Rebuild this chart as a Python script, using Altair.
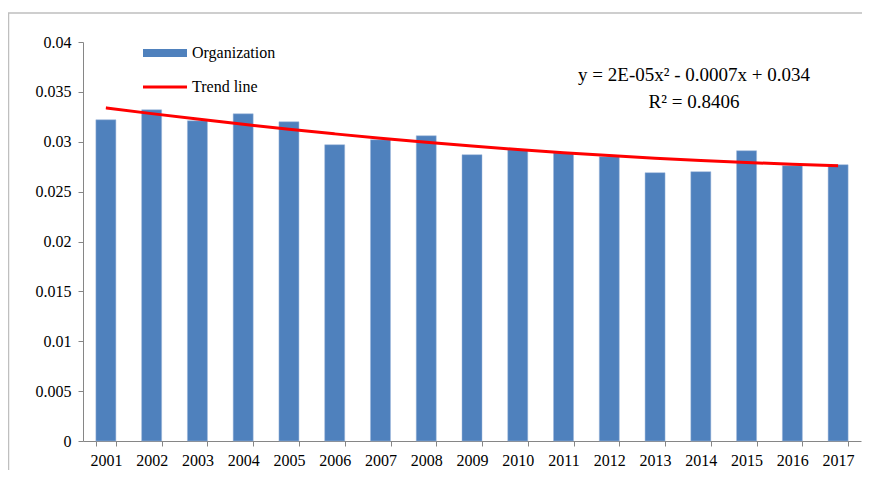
import altair as alt
import pandas as pd

years = [str(y) for y in range(2001, 2018)]
organization = [0.0322, 0.0332, 0.0321, 0.0328, 0.0320, 0.0297, 0.0302, 0.0306, 0.0287,
                0.0292, 0.0289, 0.0285, 0.0269, 0.0270, 0.0291, 0.0276, 0.0277]
trend = [0.03340, 0.03282, 0.03227, 0.03175, 0.03125, 0.03079, 0.03035, 0.02995, 0.02957,
         0.02922, 0.02890, 0.02861, 0.02835, 0.02812, 0.02792, 0.02775, 0.02760]
y_ticks = [0, 0.005, 0.01, 0.015, 0.02, 0.025, 0.03, 0.035, 0.04]
legend_labels = ["Organization", "Trend line"]
equation = "y = 2E-05x² - 0.0007x + 0.034"
r_squared = "R² = 0.8406"

df = pd.DataFrame({"year": years, "org": organization, "trend": trend})

FONT = "Liberation Serif"
AXIS_GRAY = "#868686"

y_scale = alt.Scale(domain=[0, 0.04], nice=False)
x_axis = alt.Axis(labelAngle=0, tickBand="extent", labelPadding=6, title=None)
y_axis = alt.Axis(values=y_ticks, grid=False, labelPadding=7, title=None,
                  labelExpr="datum.value == 0 ? '0' : format(datum.value, '~g')")

bars = alt.Chart(df).mark_bar(color="#4F81BD", size=20, stroke="#9DB7DA", strokeWidth=0.5).encode(
    x=alt.X("year:O", sort=years, title=None,
            scale=alt.Scale(paddingInner=0.56, paddingOuter=0.28), axis=x_axis),
    y=alt.Y("org:Q", scale=y_scale, title=None, axis=y_axis),
)

line = alt.Chart(df).mark_line(color="#FF0000", strokeWidth=3, interpolate="monotone").encode(
    x=alt.X("year:O", sort=years, title=None, axis=x_axis),
    y=alt.Y("trend:Q", scale=y_scale, title=None, axis=y_axis),
)

leg_df = pd.DataFrame({"label": legend_labels})

leg_rect = alt.Chart(leg_df).transform_filter(alt.datum.label == legend_labels[0]).mark_rect(
    color="#4F81BD").encode(
    x=alt.value(60), x2=alt.value(104), y=alt.value(7), y2=alt.value(15))
leg_line = alt.Chart(leg_df).transform_filter(alt.datum.label == legend_labels[1]).mark_rule(
    color="#FF0000", strokeWidth=3).encode(
    x=alt.value(60), x2=alt.value(104), y=alt.value(45))
leg_text1 = alt.Chart(leg_df).transform_filter(alt.datum.label == legend_labels[0]).mark_text(
    align="left", baseline="middle", font=FONT, fontSize=16, color="#000000").encode(
    x=alt.value(109), y=alt.value(11), text="label:N")
leg_text2 = alt.Chart(leg_df).transform_filter(alt.datum.label == legend_labels[1]).mark_text(
    align="left", baseline="middle", font=FONT, fontSize=16, color="#000000").encode(
    x=alt.value(109), y=alt.value(45), text="label:N")

eq_df = pd.DataFrame({"t": [equation, r_squared], "row": [0, 1]})
eq1 = alt.Chart(eq_df).transform_filter(alt.datum.row == 0).mark_text(
    align="center", baseline="middle", font=FONT, fontSize=19, color="#000000").encode(
    x=alt.value(611), y=alt.value(33), text="t:N")
eq2 = alt.Chart(eq_df).transform_filter(alt.datum.row == 1).mark_text(
    align="center", baseline="middle", font=FONT, fontSize=19, color="#000000").encode(
    x=alt.value(611), y=alt.value(60), text="t:N")

border = alt.Chart(leg_df).transform_filter(alt.datum.label == legend_labels[0]).mark_rect(
    fillOpacity=0, stroke="#BFBFBF", strokeWidth=1.5).encode(
    x=alt.value(-74.5), x2=alt.value(900), y=alt.value(-29), y2=alt.value(600))

chart = alt.layer(
    border, bars, line, leg_rect, leg_line, leg_text1, leg_text2, eq1, eq2
).properties(
    width=778, height=399,
    autosize=alt.AutoSizeParams(type="none"),
    padding={"left": 75, "top": 34, "right": 1, "bottom": 29},
).configure(
    background="white", font=FONT
).configure_view(
    stroke="transparent", strokeWidth=0
).configure_axis(
    labelFont=FONT, labelFontSize=16, labelColor="#000000",
    domainColor=AXIS_GRAY, tickColor=AXIS_GRAY, tickSize=5, grid=False,
)

chart.save("out.html", embed_options={"renderer": "svg", "actions": False})
